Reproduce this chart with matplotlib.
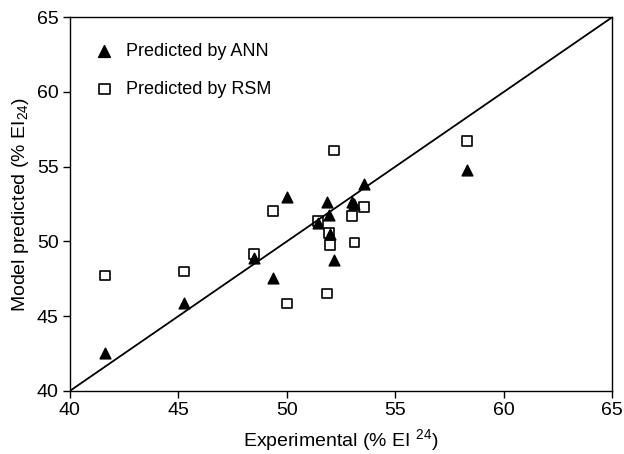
import matplotlib
matplotlib.use("Agg")
import matplotlib.pyplot as plt

plt.rcParams['font.family'] = ['Liberation Sans', 'DejaVu Sans']

# experimental values (same x for both models)
exp_vals = [41.62, 45.26, 48.49, 49.35, 50.0, 51.44, 51.85, 51.94, 52.01, 52.18, 53.0, 53.12, 53.56, 58.32]
ann_pred = [42.54, 45.85, 48.86, 47.57, 52.99, 51.21, 52.66, 51.76, 50.47, 48.75, 52.61, 52.48, 53.82, 54.78]
rsm_exp = [41.62, 45.26, 48.49, 49.35, 50.0, 51.44, 51.85, 51.94, 52.01, 52.18, 53.0, 53.12, 53.56, 58.32]
rsm_pred = [47.72, 47.99, 49.15, 52.01, 45.85, 51.36, 46.52, 50.54, 49.75, 56.09, 51.70, 49.93, 52.28, 56.70]

fig = plt.figure(figsize=(6.24, 4.54), dpi=100)
ax = fig.add_axes([0.112, 0.139, 0.869, 0.823])

ax.plot([40, 65], [40, 65], color='black', lw=1.3, zorder=1)
ax.scatter(exp_vals, ann_pred, marker='^', s=60, color='black', label='Predicted by ANN', zorder=3)
ax.scatter(rsm_exp, rsm_pred, marker='s', s=50, facecolors='none', edgecolors='black',
           linewidths=1.2, label='Predicted by RSM', zorder=2)

ax.set_xlim(40, 65)
ax.set_ylim(40, 65)
ax.set_xticks(range(40, 66, 5))
ax.set_yticks(range(40, 66, 5))
ax.tick_params(direction='out', length=5, width=1, labelsize=14, top=False, right=False, pad=3)
for s in ax.spines.values():
    s.set_linewidth(1.0)

ax.set_xlabel('Experimental (% EI $\\mathregular{^{24}}$)', fontsize=14, labelpad=6)
ax.set_ylabel('Model predicted (% EI$\\mathregular{_{24}}$)', fontsize=14, labelpad=4)

ax.legend(loc='upper left', bbox_to_anchor=(0.01, 0.96), frameon=False, fontsize=13,
          labelspacing=1.15, handletextpad=0.2, borderaxespad=0.2, markerscale=1.1)

fig.savefig('out.png', dpi=100)
